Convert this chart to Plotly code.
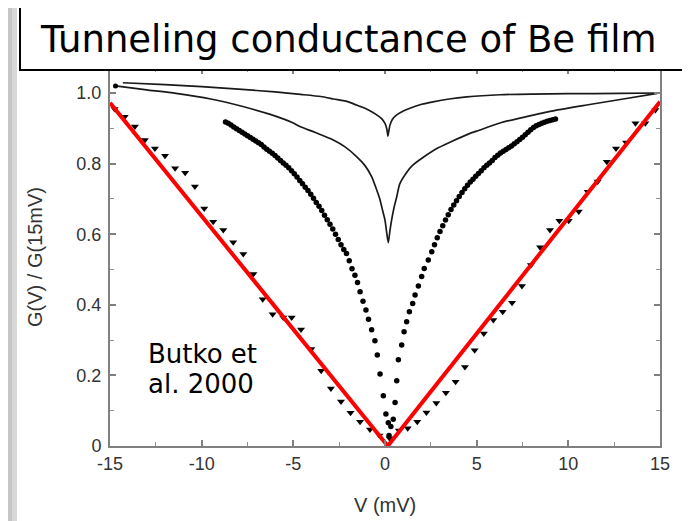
import plotly.graph_objects as go

# ---------------- data ----------------
# upper solid curve
curve_a_v = [-14.3, -12.0, -10.0, -8.0, -6.0, -4.6, -3.5, -2.8, -2.0, -1.36, -0.9, -0.45, -0.2, 0.0, 0.1, 0.16,
             0.2, 0.27, 0.4, 0.64, 1.0, 1.36, 2.0, 2.62, 3.5, 4.46, 6.27, 8.0, 10.0, 12.8, 15.0]
curve_a_g = [1.029, 1.024, 1.018, 1.011, 1.003, 0.996, 0.990, 0.983, 0.975, 0.962, 0.952, 0.938, 0.928, 0.914, 0.898, 0.878,
             0.890, 0.909, 0.925, 0.938, 0.949, 0.957, 0.968, 0.975, 0.983, 0.989, 0.995, 0.997, 0.998, 0.999, 1.0]

# second solid curve
curve_b_v = [-14.7, -13.0, -11.4, -9.5, -7.7, -6.3, -5.0, -4.64, -3.8, -2.82, -2.2, -1.55, -1.1, -0.73, -0.45, -0.27,
             -0.12, 0.0, 0.09, 0.18, 0.27, 0.36, 0.5, 0.64, 0.8, 1.18, 1.5, 2.09, 2.8, 3.6, 4.6, 5.0, 6.27, 7.3, 9.0,
             11.0, 13.0, 14.85]
curve_b_g = [1.02, 1.009, 0.999, 0.983, 0.961, 0.94, 0.915, 0.905, 0.888, 0.867, 0.848, 0.82, 0.795, 0.763, 0.725, 0.697,
             0.665, 0.64, 0.605, 0.576, 0.61, 0.64, 0.677, 0.706, 0.742, 0.775, 0.795, 0.818, 0.842, 0.862, 0.885, 0.892,
             0.915, 0.928, 0.948, 0.966, 0.983, 0.999]

# dense dotted curve
dots_v = [-8.70, -8.55, -8.40, -8.25, -8.10, -7.95, -7.80, -7.65, -7.50, -7.35, -7.20, -7.05, -6.90, -6.75, -6.60,
          -6.45, -6.30, -6.15, -6.00, -5.85, -5.70, -5.55, -5.40, -5.25, -5.10, -4.95, -4.80, -4.65, -4.50, -4.35,
          -4.20, -4.05, -3.90, -3.75, -3.60, -3.45, -3.30, -3.15, -3.00, -2.85, -2.70, -2.55, -2.40, -2.25, -2.10,
          -1.95, -1.80, -1.64, -1.50, -1.36, -1.20, -1.04, -0.90, -0.73, -0.55, -0.42, -0.27, -0.09, 0.05, 0.18,
          0.22, 0.32, 0.45, 0.55, 0.64, 0.73, 0.91, 1.04, 1.18, 1.33, 1.51, 1.64, 1.82, 2.00, 2.14, 2.36,
          2.55, 2.70, 2.85, 3.00, 3.15, 3.30, 3.45, 3.60, 3.75, 3.90, 4.05, 4.20, 4.35, 4.50, 4.65, 4.80, 4.95,
          5.10, 5.25, 5.40, 5.55, 5.70, 5.85, 6.00, 6.15, 6.30, 6.45, 6.60, 6.75, 6.90, 7.05, 7.20, 7.35, 7.50,
          7.65, 7.80, 7.95, 8.10, 8.25, 8.40, 8.55, 8.70, 8.85, 9.00, 9.15, 9.30]
dots_g = [0.918, 0.914, 0.909, 0.904, 0.899, 0.894, 0.889, 0.884, 0.879, 0.874, 0.869, 0.864, 0.859, 0.854, 0.847,
          0.841, 0.835, 0.829, 0.823, 0.816, 0.809, 0.802, 0.795, 0.788, 0.780, 0.771, 0.762, 0.752, 0.743, 0.733,
          0.724, 0.713, 0.702, 0.690, 0.679, 0.667, 0.654, 0.641, 0.628, 0.615, 0.600, 0.585, 0.570, 0.557, 0.545,
          0.525, 0.502, 0.484, 0.463, 0.437, 0.410, 0.385, 0.359, 0.329, 0.298, 0.258, 0.204, 0.142, 0.091, 0.066,
          0.030, 0.055, 0.076, 0.123, 0.185, 0.244, 0.286, 0.324, 0.352, 0.380, 0.404, 0.428, 0.453, 0.480, 0.503, 0.527,
          0.550, 0.570, 0.590, 0.608, 0.624, 0.640, 0.655, 0.670, 0.683, 0.695, 0.707, 0.718, 0.729, 0.739, 0.748,
          0.756, 0.764, 0.772, 0.780, 0.788, 0.795, 0.802, 0.809, 0.817, 0.824, 0.830, 0.835, 0.840, 0.845, 0.850,
          0.856, 0.862, 0.868, 0.875, 0.882, 0.889, 0.896, 0.902, 0.907, 0.911, 0.914, 0.917, 0.920, 0.922, 0.924, 0.926]

# triangle series
tri_v = [-14.75, -14.2, -13.64, -13.1, -12.55, -12.0, -11.45, -10.9, -10.37, -9.86, -9.37, -8.82, -8.28, -7.73,
         -7.18, -6.67, -6.13, -5.55, -5.09, -4.58, -4.02, -3.48, -2.95, -2.4, -1.88, -1.36, -0.82, -0.3, 0.25,
         0.76, 1.24, 1.76, 2.26, 2.8, 3.32, 3.85, 4.36, 4.89, 5.39, 5.91, 6.42, 6.93, 7.47, 7.96, 8.46, 9.0,
         9.51, 10.02, 10.57, 11.06, 11.6, 12.1, 12.6, 13.15, 13.66, 14.2, 14.75]
tri_g = [0.955, 0.933, 0.905, 0.867, 0.843, 0.822, 0.787, 0.774, 0.735, 0.673, 0.635, 0.612, 0.577, 0.544,
         0.487, 0.416, 0.373, 0.364, 0.364, 0.330, 0.275, 0.213, 0.163, 0.126, 0.094, 0.069, 0.047, 0.030, 0.022,
         0.044, 0.050, 0.069, 0.095, 0.122, 0.151, 0.182, 0.224, 0.271, 0.319, 0.357, 0.380, 0.406, 0.453, 0.513,
         0.563, 0.612, 0.638, 0.638, 0.664, 0.720, 0.749, 0.805, 0.843, 0.860, 0.914, 0.914, 0.952]

# linear fit (red)
fit_v = [-15.0, 0.15, 15.0]
fit_g = [0.972, 0.0, 0.975]

x_tick_vals = [-15, -10, -5, 0, 5, 10, 15]
x_tick_text = ["-15", "-10", "-5", "0", "5", "10", "15"]
y_tick_vals = [0, 0.2, 0.4, 0.6, 0.8, 1.0]
y_tick_text = ["0", "0.2", "0.4", "0.6", "0.8", "1.0"]

title_text = "Tunneling conductance of Be film"
note_line1 = "Butko et"
note_line2 = "al. 2000"
x_title = "V (mV)"
y_title = "G(V) / G(15mV)"

# ---------------- layout geometry ----------------
# the page adds an 8px body margin, so the figure covers window pixels 8..690 x 8..521
OFF = 8
W, H = 690 - OFF, 521 - OFF
L, R, T, B = 110 - OFF, 30, 68 - OFF, 75
PW, PH = W - L - R, H - T - B


def xp(px):
    """window pixel x -> paper fraction"""
    return (px - OFF - L) / PW


def yp(py):
    """window pixel y -> paper fraction"""
    return (H - B - (py - OFF)) / PH


fig = go.Figure()

fig.add_trace(go.Scatter(x=tri_v, y=tri_g, mode="markers",
                         marker=dict(symbol="triangle-down", size=7, color="black"),
                         hoverinfo="skip", showlegend=False))
fig.add_trace(go.Scatter(x=dots_v, y=dots_g, mode="markers",
                         marker=dict(symbol="circle", size=5.5, color="black"),
                         hoverinfo="skip", showlegend=False))
fig.add_trace(go.Scatter(x=curve_a_v, y=curve_a_g, mode="lines",
                         line=dict(color="#1a1a1a", width=1.7, shape="spline", smoothing=0.6),
                         hoverinfo="skip", showlegend=False))
fig.add_trace(go.Scatter(x=curve_b_v, y=curve_b_g, mode="lines",
                         line=dict(color="#1a1a1a", width=1.7, shape="spline", smoothing=0.6),
                         hoverinfo="skip", showlegend=False))
fig.add_trace(go.Scatter(x=curve_b_v[:1], y=curve_b_g[:1], mode="markers",
                         marker=dict(symbol="circle", size=5, color="black"),
                         hoverinfo="skip", showlegend=False))
fig.add_trace(go.Scatter(x=fit_v, y=fit_g, mode="lines",
                         line=dict(color="#ff0000", width=4),
                         hoverinfo="skip", showlegend=False))

axis_common = dict(
    showgrid=False, zeroline=False, showline=True, linecolor="#808080", linewidth=2,
    mirror="ticks", ticks="inside", tickcolor="#808080", tickwidth=1.5, ticklen=6,
    tickfont=dict(family="Liberation Sans, Arial, sans-serif", size=18, color="#333333"),
)

fig.update_xaxes(range=[-15, 15], tickmode="array", tickvals=x_tick_vals, ticktext=x_tick_text,
                 minor=dict(dtick=2.5, ticks="inside", ticklen=4, tickcolor="#909090", tickwidth=1.2),
                 **axis_common)
fig.update_yaxes(range=[0, PH / 353.0], tickmode="array", tickvals=y_tick_vals, ticktext=y_tick_text,
                 minor=dict(dtick=0.1, ticks="inside", ticklen=4, tickcolor="#909090", tickwidth=1.2),
                 ticklabelstandoff=3,
                 **axis_common)

shapes = [
    # white panel over the grey page
    dict(type="rect", xref="paper", yref="paper", x0=xp(17), x1=xp(688), y0=yp(5), y1=yp(530),
         fillcolor="white", line=dict(width=0), layer="below"),
    # grey gradient strip on left
    dict(type="rect", xref="paper", yref="paper", x0=xp(0), x1=xp(12), y0=yp(0), y1=yp(530),
         fillcolor="#c6c6c6", line=dict(width=0), layer="below"),
    dict(type="rect", xref="paper", yref="paper", x0=xp(12), x1=xp(17), y0=yp(0), y1=yp(530),
         fillcolor="#d8d8d8", line=dict(width=0), layer="below"),
    # title box
    dict(type="rect", xref="paper", yref="paper", x0=xp(20), x1=xp(688), y0=yp(70), y1=yp(5),
         fillcolor="white", line=dict(color="black", width=2), layer="above"),
]

annotations = [
    dict(text=title_text, xref="paper", yref="paper", x=xp(38), y=yp(40), xanchor="left", yanchor="middle",
         showarrow=False, font=dict(family="DejaVu Sans, Verdana, sans-serif", size=37, color="black")),
    dict(text=note_line1, xref="paper", yref="paper", x=xp(146), y=yp(354), xanchor="left", yanchor="middle",
         showarrow=False, font=dict(family="DejaVu Sans, Verdana, sans-serif", size=26, color="black")),
    dict(text=note_line2, xref="paper", yref="paper", x=xp(146), y=yp(384), xanchor="left", yanchor="middle",
         showarrow=False, font=dict(family="DejaVu Sans, Verdana, sans-serif", size=26, color="black")),
    dict(text=x_title, xref="paper", yref="paper", x=xp(385), y=yp(505), xanchor="center", yanchor="middle",
         showarrow=False, font=dict(family="Liberation Sans, Arial, sans-serif", size=20, color="#333333")),
    dict(text=y_title, xref="paper", yref="paper", x=xp(35), y=yp(257), xanchor="center", yanchor="middle",
         textangle=-90, showarrow=False,
         font=dict(family="Liberation Sans, Arial, sans-serif", size=20, color="#333333")),
]

fig.update_layout(
    width=W, height=H, margin=dict(l=L, r=R, t=T, b=B, pad=0),
    paper_bgcolor="#a8a8a8", plot_bgcolor="white",
    shapes=shapes, annotations=annotations, showlegend=False,
)

fig.write_html("out.html")
